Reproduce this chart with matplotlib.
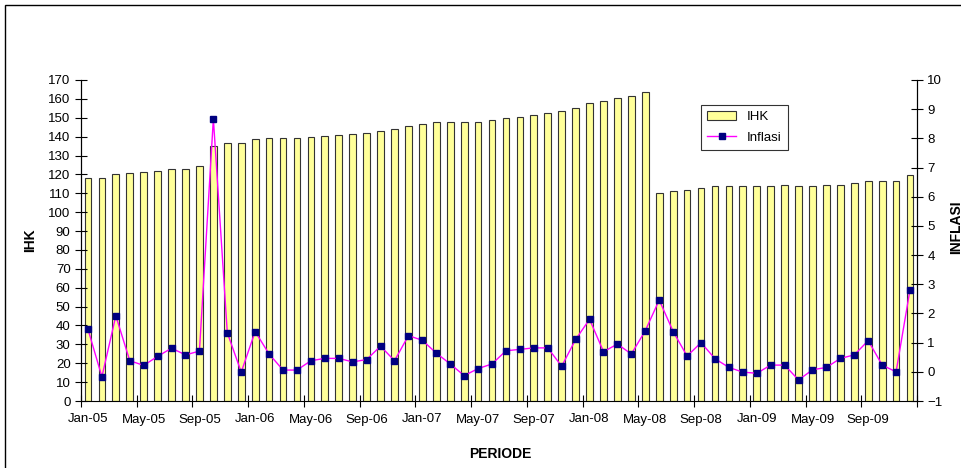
import numpy as np
import matplotlib
matplotlib.use('Agg')
import matplotlib.pyplot as plt
from matplotlib.patches import Rectangle

plt.rcParams['font.family'] = ['Liberation Sans', 'DejaVu Sans']

# monthly periods Jan-05 .. Dec-09
months = ['Jan', 'Feb', 'Mar', 'Apr', 'May', 'Jun', 'Jul', 'Aug', 'Sep', 'Oct', 'Nov', 'Dec']
periode = [m + '-' + y for y in ['05', '06', '07', '08', '09'] for m in months]

ihk = [118.3, 118.3, 120.1, 120.6, 121.5, 122.0, 122.7, 123.1, 124.3, 135.1,
       136.8, 136.8, 138.6, 139.1, 139.1, 139.1, 139.8, 140.4, 141.1, 141.5,
       142.1, 143.2, 143.9, 145.6, 146.9, 147.9, 147.9, 147.9, 147.9, 148.7,
       149.7, 150.2, 151.7, 152.7, 153.4, 155.0, 157.7, 158.9, 160.5, 161.4,
       163.7, 110.0, 111.2, 111.8, 113.0, 113.7, 113.7, 113.7, 113.7, 113.7,
       114.2, 113.7, 113.7, 114.2, 114.2, 115.3, 116.5, 116.5, 116.5, 119.5]

inflasi = [1.46, -0.17, 1.92, 0.38, 0.22, 0.53, 0.81, 0.58, 0.71, 8.67,
           1.34, -0.01, 1.38, 0.61, 0.06, 0.06, 0.38, 0.46, 0.46, 0.34,
           0.42, 0.88, 0.38, 1.24, 1.08, 0.64, 0.27, -0.13, 0.11, 0.27,
           0.72, 0.77, 0.82, 0.82, 0.19, 1.11, 1.80, 0.69, 0.95, 0.61,
           1.41, 2.46, 1.38, 0.54, 1.00, 0.45, 0.15, -0.01, -0.05, 0.23,
           0.23, -0.28, 0.07, 0.15, 0.46, 0.58, 1.07, 0.23, 0.00, 2.82]

x = np.arange(len(periode))

fig = plt.figure(figsize=(9.62, 4.68), dpi=100)
ax = fig.add_axes([81/962, 1-401/468, (917-81)/962, (401-80)/468])
ax2 = ax.twinx()

bars = ax.bar(x, ihk, width=0.48, color='#FFFF99', edgecolor='#333333', linewidth=0.8, label='IHK')
line, = ax2.plot(x, inflasi, color='#FF00FF', lw=1, marker='s', markersize=5,
                 markerfacecolor='#000080', markeredgecolor='#000080', label='Inflasi')

ax.set_xlim(-0.5, 59.5)
ax.set_ylim(0, 170)
ax2.set_ylim(-1, 10)
ax.set_yticks(np.arange(0, 171, 10))
ax2.set_yticks(np.arange(-1, 11, 1))

ax.set_xticks(x[::4])
ax.set_xticklabels(periode[::4])
ax.set_xticks(np.arange(-0.5, 60, 4), minor=True)
ax.tick_params(axis='x', which='major', length=0, pad=9, labelsize=9.5)
ax.tick_params(axis='x', which='minor', direction='inout', length=9, width=0.8)
ax.tick_params(axis='y', direction='inout', length=9, width=0.8, labelsize=9.5, pad=3)
ax2.tick_params(axis='y', direction='inout', length=9, width=0.8, labelsize=9.5, pad=3)

for a in (ax, ax2):
    a.spines['top'].set_visible(False)
    for s in ('left', 'right', 'bottom'):
        a.spines[s].set_linewidth(0.8)
ax2.spines['bottom'].set_visible(False)

ax.set_xlabel('PERIODE', fontsize=10, fontweight='bold')
ax.xaxis.set_label_coords((500-81)/(917-81), -(447-401)/(401-80))
ax.set_ylabel('IHK', fontsize=10, fontweight='bold')
ax.yaxis.set_label_coords((37-81)/(917-81), 0.5)
ax2.set_ylabel('INFLASI', fontsize=10, fontweight='bold')
ax2.yaxis.set_label_coords((949-81)/(917-81), (401-227)/321)

leg = fig.legend([bars, line], ['IHK', 'Inflasi'], loc='upper left',
                 bbox_to_anchor=(694/962, 1-98/468), fontsize=9.5, frameon=True,
                 fancybox=False, edgecolor='black', borderpad=0.5, handlelength=2.2,
                 labelspacing=0.6)
leg.get_frame().set_linewidth(0.8)

fig.add_artist(Rectangle((5/962, -0.05), 1.1, 1.05 - 5/468, transform=fig.transFigure,
                         fill=False, edgecolor='black', lw=1))

fig.savefig('out.png', dpi=100)
